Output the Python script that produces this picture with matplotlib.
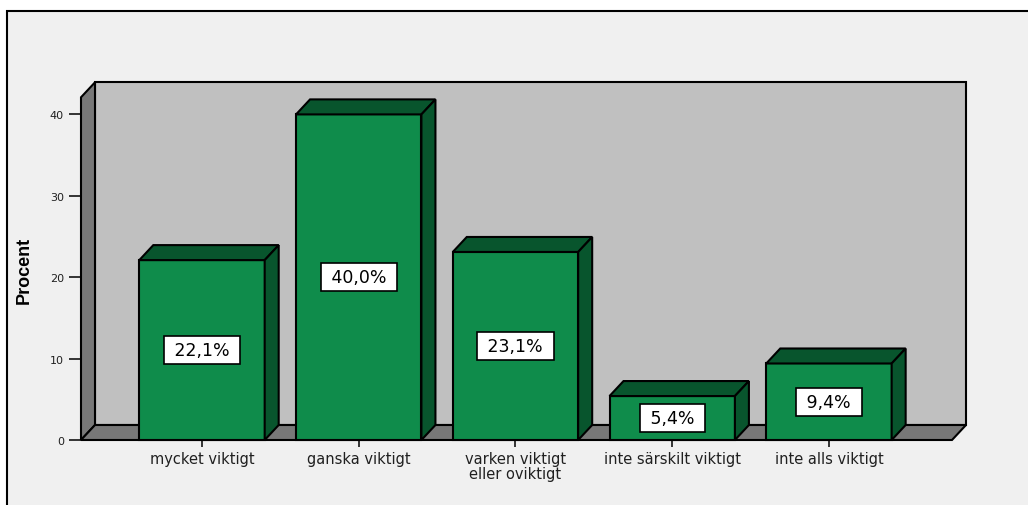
import matplotlib as mpl
import matplotlib.pyplot as plt
from matplotlib.patches import Polygon, Rectangle
from matplotlib.transforms import IdentityTransform
import numpy as np

categories = ['mycket viktigt', 'ganska viktigt', 'varken viktigt\neller oviktigt',
              'inte särskilt viktigt', 'inte alls viktigt']
percent = [22.1, 40.0, 23.1, 5.4, 9.4]
bar_labels = ['22,1%', '40,0%', '23,1%', '5,4%', '9,4%']
y_ticks = [0, 10, 20, 30, 40]

BG = '#f0f0f0'
WALL = '#c0c0c0'
SIDE = '#787878'
GREEN = '#0f8c4b'
DARK_GREEN = '#08552d'
DX, DY = 14, 15   # depth offset in pixels
LW = 1.5

mpl.rcParams['font.family'] = 'DejaVu Sans'

fig = plt.figure(figsize=(10.28, 5.06), dpi=100, facecolor='white')
# outer frame (only top and left edges fall inside the image)
fig.patches.append(Rectangle((7 / 1028, 0 - 0.1), 1.2, (506 - 12) / 506 + 0.1,
                             transform=fig.transFigure, facecolor=BG,
                             edgecolor='black', lw=1.5, zorder=-5))

ymax = 42.1
ax = fig.add_axes([81 / 1028, 65 / 506, 871 / 1028, ymax * 8.14 / 506])
ax.set_zorder(1)
ax.set_xlim(-0.772, 4.785)
ax.set_ylim(0, ymax)
ax.patch.set_visible(False)
for s in ax.spines.values():
    s.set_visible(False)

x = np.arange(len(categories))
width = 0.80


def px(xv, yv, back=False):
    p = ax.transData.transform((xv, yv))
    if back:
        p = p + np.array([DX, DY])
    return p


def poly(points, color, z):
    ax.add_patch(Polygon(np.array(points), closed=True, facecolor=color,
                         edgecolor='black', lw=LW, transform=IdentityTransform(),
                         clip_on=False, zorder=z, joinstyle='miter'))


x0, x1 = ax.get_xlim()
# back wall
poly([px(x0, 0, True), px(x1, 0, True), px(x1, ymax, True), px(x0, ymax, True)], WALL, 1)
# left wall
poly([px(x0, 0), px(x0, 0, True), px(x0, ymax, True), px(x0, ymax)], SIDE, 1.1)
# floor
poly([px(x0, 0), px(x1, 0), px(x1, 0, True), px(x0, 0, True)], SIDE, 1.2)

# bars
for i, v in enumerate(percent):
    l, r = x[i] - width / 2, x[i] + width / 2
    poly([px(l, 0), px(r, 0), px(r, v), px(l, v)], GREEN, 3)
    poly([px(l, v), px(r, v), px(r, v, True), px(l, v, True)], DARK_GREEN, 3)
    poly([px(r, 0), px(r, 0, True), px(r, v, True), px(r, v)], DARK_GREEN, 3)
    ax.text(x[i], v / 2, ' ' + bar_labels[i] + ' ', ha='center', va='center',
            fontsize=12.5, zorder=5,
            bbox=dict(boxstyle='square,pad=0.3', facecolor='white',
                      edgecolor='black', lw=1.2))

ax.set_yticks(y_ticks)
ax.set_xticks(x)
ax.set_xticklabels(categories, fontsize=10.5, linespacing=0.95, color='#202020')
ax.tick_params(axis='y', length=8.6, width=1.1, pad=3.6, labelsize=8, labelcolor='#202020')
ax.tick_params(axis='x', length=5, width=1.1, pad=3)

ax.set_ylabel('Procent', fontsize=13, fontweight='bold', family='Liberation Sans')
ax.yaxis.set_label_coords(-(81 - 33) / 871, (441 - 270) / (ymax * 8.14))

fig.savefig('out.png', dpi=100, facecolor=fig.get_facecolor())
